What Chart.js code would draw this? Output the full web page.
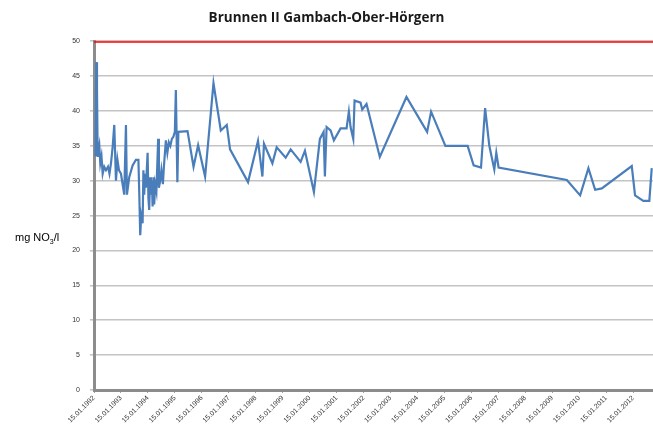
<!DOCTYPE html>
<html>
<head>
<meta charset="utf-8">
<script src="https://cdn.jsdelivr.net/npm/chart.js@4/dist/chart.umd.min.js"></script>
<style>
  body { margin: 0; background: #fff; }
  #wrap { width: 653px; height: 432px; }
</style>
</head>
<body>
<div id="wrap"><canvas id="no3Chart"></canvas></div>
<script>
// ------------------ Data (decimal years, 15.01. = whole year) ------------------
const sampleYears = [
  1992.056, 1992.085, 1992.111, 1992.137, 1992.167, 1992.196, 1992.233, 1992.278, 1992.322, 1992.381,
  1992.444, 1992.519, 1992.574, 1992.630, 1992.693, 1992.752, 1992.815, 1992.870, 1992.926, 1993.000,
  1993.122, 1993.185, 1993.222, 1993.307, 1993.433, 1993.556, 1993.648, 1993.678, 1993.715, 1993.752,
  1993.804, 1993.833, 1993.863, 1993.896, 1993.926, 1993.989, 1994.019, 1994.048, 1994.081, 1994.111,
  1994.148, 1994.174, 1994.204, 1994.233, 1994.270, 1994.315, 1994.381, 1994.407, 1994.456, 1994.500,
  1994.556, 1994.593, 1994.667, 1994.722, 1994.778, 1994.833, 1994.889, 1994.944, 1995.000, 1995.037,
  1995.093, 1995.130, 1995.470, 1995.693, 1995.863, 1996.122, 1996.433, 1996.704, 1996.926, 1997.048,
  1997.715, 1998.085, 1998.248, 1998.307, 1998.619, 1998.778, 1999.111, 1999.296, 1999.667, 1999.826,
  2000.159, 2000.381, 2000.519, 2000.567, 2000.630, 2000.778, 2000.900, 2001.148, 2001.370, 2001.456,
  2001.519, 2001.619, 2001.667, 2001.889, 2001.952, 2002.111, 2002.604, 2003.593, 2004.359, 2004.507,
  2005.037, 2005.863, 2006.085, 2006.359, 2006.511, 2006.667, 2006.852, 2006.926, 2007.011, 2009.544,
  2010.037, 2010.344, 2010.593, 2010.841, 2011.952, 2012.074, 2012.381, 2012.604, 2012.693
];
const nitrate = [
  33.5, 47.0, 43.0, 33.4, 34.5, 35.1, 32.5, 33.5, 31.0, 32.0,
  31.5, 32.0, 31.0, 32.5, 34.9, 38.0, 30.0, 33.0, 31.5, 31.0,
  28.0, 38.0, 28.0, 30.5, 32.2, 33.0, 33.0, 28.5, 22.2, 25.0,
  23.9, 31.5, 28.0, 31.0, 29.0, 34.0, 27.5, 25.8, 30.5, 28.0,
  30.0, 26.3, 30.5, 26.6, 29.5, 28.5, 36.0, 29.0, 30.0, 31.5,
  29.5, 32.0, 35.8, 34.0, 35.5, 35.0, 36.0, 36.3, 37.0, 43.0,
  29.8, 37.0, 37.1, 32.0, 35.1, 30.6, 44.0, 37.2, 38.0, 34.5,
  29.8, 35.7, 30.6, 35.3, 32.5, 34.8, 33.3, 34.5, 32.7, 34.3,
  28.4, 36.0, 37.0, 30.6, 37.7, 37.2, 35.8, 37.5, 37.5, 39.9,
  37.7, 36.0, 41.5, 41.2, 40.2, 41.0, 33.4, 42.0, 37.0, 39.9,
  35.0, 35.0, 32.2, 31.9, 40.4, 35.0, 31.6, 34.0, 31.9, 30.1,
  27.9, 31.8, 28.7, 28.9, 32.1, 27.9, 27.1, 27.1, 31.8
];
const tickYears = [1992, 1993, 1994, 1995, 1996, 1997, 1998, 1999, 2000, 2001, 2002,
                   2003, 2004, 2005, 2006, 2007, 2008, 2009, 2010, 2011, 2012];
const xStart = 1992;
const xEnd = 2012.74;
const limitValue = 50; // Grenzwert

// ------------------ y axis title with subscript ------------------
const unitLabel = {
  id: 'unitLabel',
  afterDraw(chart) {
    const ctx = chart.ctx;
    ctx.save();
    ctx.fillStyle = '#000';
    ctx.textBaseline = 'alphabetic';
    let x = 15, y = 241;
    ctx.font = '11px "Liberation Sans", Arial, sans-serif';
    ctx.fillText('mg NO', x, y);
    x += ctx.measureText('mg NO').width;
    ctx.font = '7px "Liberation Sans", Arial, sans-serif';
    ctx.fillText('3', x, y + 3);
    x += ctx.measureText('3').width;
    ctx.font = '11px "Liberation Sans", Arial, sans-serif';
    ctx.fillText('/l', x, y);
    ctx.restore();
  }
};

new Chart(document.getElementById('no3Chart'), {
  type: 'line',
  data: {
    datasets: [{
      label: 'Grenzwert',
      data: [{ x: xStart, y: limitValue }, { x: xEnd, y: limitValue }],
      borderColor: '#ff0000',
      borderWidth: 3,
      pointRadius: 0
    }, {
      label: 'Nitrat',
      data: sampleYears.map((t, i) => ({ x: t, y: nitrate[i] })),
      borderColor: '#4a7ebb',
      borderWidth: 2.2,
      pointRadius: 0,
      tension: 0
    }]
  },
  options: {
    responsive: true,
    maintainAspectRatio: false,
    animation: false,
    layout: { padding: { left: 0, right: 0, top: 0, bottom: 0 } },
    plugins: {
      legend: { display: false },
      tooltip: { enabled: false },
      title: {
        display: true,
        text: 'Brunnen II Gambach-Ober-Hörgern',
        color: '#1a1a1a',
        font: { family: 'Open Sans', size: 13.5, weight: 'bold' },
        padding: { top: 10, bottom: 15 }
      }
    },
    scales: {
      x: {
        type: 'linear',
        min: xStart,
        max: xEnd,
        afterBuildTicks: s => { s.ticks = tickYears.map(v => ({ value: v })); },
        afterFit: s => { s.height = 42; },
        ticks: {
          autoSkip: false,
          minRotation: 45,
          maxRotation: 45,
          padding: 1,
          color: '#333',
          font: { family: 'Liberation Sans', size: 7 },
          callback: v => '15.01.' + v
        },
        grid: { drawOnChartArea: false, tickLength: 3, color: '#a0a0a0' },
        border: { color: '#8c8c8c', width: 3 }
      },
      y: {
        min: 0,
        max: 50,
        afterFit: s => { s.width = 94; },
        ticks: {
          stepSize: 5,
          padding: 10,
          color: '#333',
          font: { family: 'Liberation Sans', size: 7 }
        },
        grid: { color: '#c4c4c4', lineWidth: 1.6, tickLength: 4 },
        border: { color: '#8c8c8c', width: 3 }
      }
    }
  },
  plugins: [unitLabel]
});
</script>
</body>
</html>
